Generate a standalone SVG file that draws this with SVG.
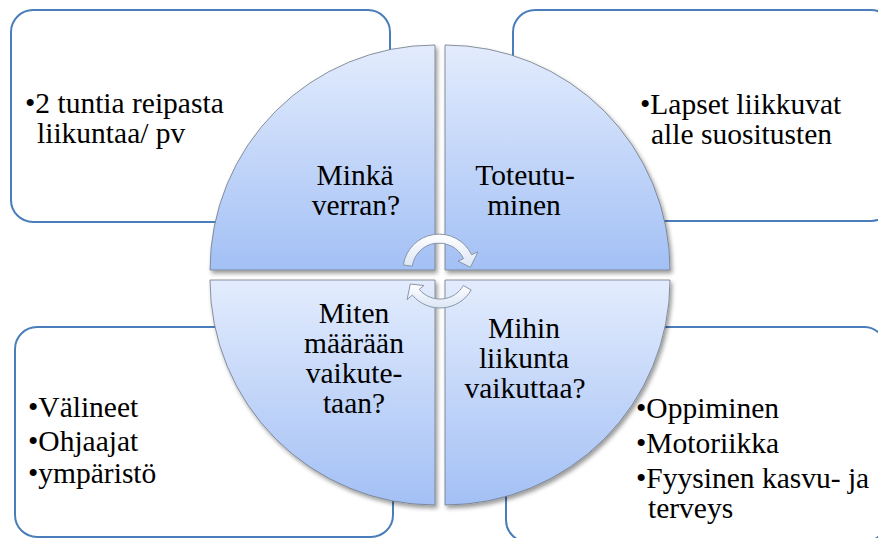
<svg xmlns="http://www.w3.org/2000/svg" width="878" height="538" viewBox="0 0 878 538">
<defs>
<style>
.box{fill:#ffffff;stroke:#4a7ebb;stroke-width:2}
.q{stroke:#6f7885;stroke-width:0.8;filter:url(#sh)}
text{font-family:'Liberation Serif','Times New Roman',serif;font-size:29.5px;fill:#000}
.c{text-anchor:middle}
.arr{fill:url(#ag);stroke:#8796a8;stroke-width:1}
</style>
<linearGradient id="qg" x1="0" y1="0" x2="0" y2="1">
<stop offset="0" stop-color="#e3ecfd"/>
<stop offset="1" stop-color="#a3c0f5"/>
</linearGradient>
<linearGradient id="ag" x1="0" y1="0" x2="0" y2="1">
<stop offset="0" stop-color="#ffffff"/>
<stop offset="1" stop-color="#dce6f5"/>
</linearGradient>
<filter id="sh" x="-10%" y="-10%" width="125%" height="125%">
<feDropShadow dx="2" dy="3" stdDeviation="2" flood-color="#000" flood-opacity="0.4"/>
</filter>
</defs>
<g id="box-tl"><rect class="box" x="11" y="10" width="379" height="212" rx="22"/>
<text x="25" y="113">•2 tuntia reipasta</text><text x="37" y="143">liikuntaa/ pv</text></g>
<g id="box-tr"><rect class="box" x="513" y="10" width="380" height="211" rx="22"/>
<text x="640" y="114">•Lapset liikkuvat</text><text x="651" y="144">alle suositusten</text></g>
<g id="box-bl"><rect class="box" x="15" y="327" width="378" height="210" rx="22"/>
<text x="28" y="417">•Välineet</text><text x="28" y="451">•Ohjaajat</text><text x="28" y="483">•ympäristö</text></g>
<g id="box-br"><rect class="box" x="506" y="327" width="380" height="215" rx="22"/>
<text x="636" y="418">•Oppiminen</text><text x="636" y="453">•Motoriikka</text><text x="636" y="488">•Fyysinen kasvu- ja</text><text x="648" y="518">terveys</text></g>
<g id="q-tl"><path class="q" fill="url(#qg)" d="M435,270 L210,270 A225,225 0 0 1 435,45 Z"/>
<text class="c" x="355" y="185">Minkä</text><text class="c" x="356" y="215">verran?</text></g>
<g id="q-tr"><path class="q" fill="url(#qg)" d="M445,270 L445,45 A225,225 0 0 1 670,270 Z"/>
<text class="c" x="525" y="185">Toteutu-</text><text class="c" x="524" y="215">minen</text></g>
<g id="q-bl"><path class="q" fill="url(#qg)" d="M435,280 L435,505 A225,225 0 0 1 210,280 Z"/>
<text class="c" x="354" y="323">Miten</text><text class="c" x="354" y="353">määrään</text><text class="c" x="354" y="383">vaikute-</text><text class="c" x="354" y="413">taan?</text></g>
<g id="q-br"><path class="q" fill="url(#qg)" d="M445,280 L670,280 A225,225 0 0 1 445,505 Z"/>
<text class="c" x="524" y="338">Mihin</text><text class="c" x="524" y="368">liikunta</text><text class="c" x="525" y="398">vaikuttaa?</text></g>
<g id="connectors">
<path class="arr" d="M403.4,265.0 A36,36 0 0 1 471.6,254.8 L478.0,251.8 L470.4,267.3 L458.0,261.1 L463.5,258.6 A27,27 0 0 0 412.3,266.2 Z"/>
<path class="arr" d="M471.2,290 A36,36 0 0 1 412.4,295.1 L407.1,299.6 L410.3,284.0 L423.9,285.5 L419.3,289.4 A27,27 0 0 0 463.4,285.5 Z"/>
</g>
</svg>
